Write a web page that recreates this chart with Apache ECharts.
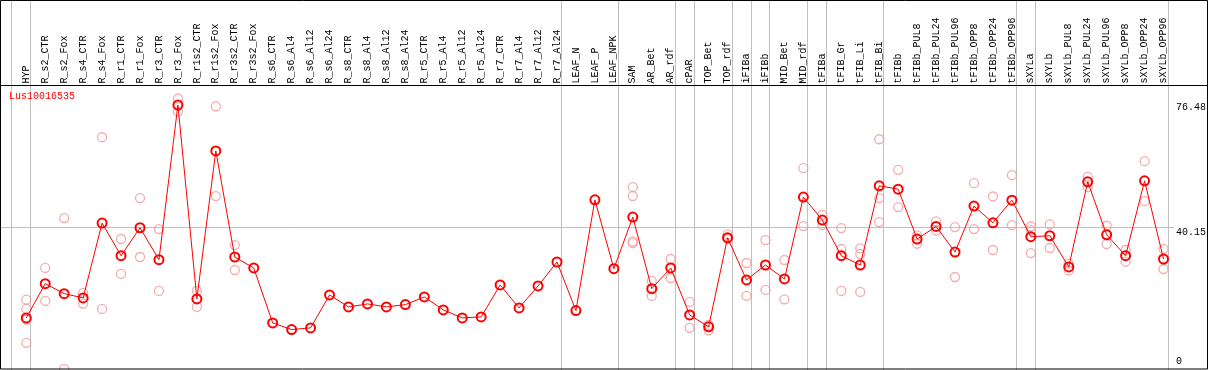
<!DOCTYPE html>
<html>
<head>
<meta charset="utf-8">
<script src="https://cdn.jsdelivr.net/npm/echarts@6/dist/echarts.min.js"></script>
<style>
html,body{margin:0;padding:0;background:#fff;}
#chart{width:1209px;height:370px;}
</style>
</head>
<body>
<div id="chart"></div>
<script>
// ---- data ----
var geneName = 'Lus10016535';
var categories = ['HYP','R_s2_CTR','R_s2_Fox','R_s4_CTR','R_s4_Fox','R_r1_CTR','R_r1_Fox','R_r3_CTR','R_r3_Fox','R_r1s2_CTR','R_r1s2_Fox','R_r3s2_CTR','R_r3s2_Fox','R_s6_CTR','R_s6_Al4','R_s6_Al12','R_s6_Al24','R_s8_CTR','R_s8_Al4','R_s8_Al12','R_s8_Al24','R_r5_CTR','R_r5_Al4','R_r5_Al12','R_r5_Al24','R_r7_CTR','R_r7_Al4','R_r7_Al12','R_r7_Al24','LEAF_N','LEAF_P','LEAF_NPK','SAM','AR_Bet','AR_rdf','cPAR','TOP_Bet','TOP_rdf','iFIBa','iFIBb','MID_Bet','MID_rdf','tFIBa','tFIB_Gr','tFIB_Li','tFIB_Bi','tFIBb','tFIBb_PUL8','tFIBb_PUL24','tFIBb_PUL96','tFIBb_OPP8','tFIBb_OPP24','tFIBb_OPP96','sXYLa','sXYLb','sXYLb_PUL8','sXYLb_PUL24','sXYLb_PUL96','sXYLb_OPP8','sXYLb_OPP24','sXYLb_OPP96'];
var means = [14.68,24.32,21.51,20.30,41.39,32.19,40.07,31.07,74.65,20.02,61.72,31.83,28.74,13.27,11.39,11.86,21.14,17.77,18.61,17.77,18.42,20.58,16.93,14.68,14.96,23.96,17.49,23.67,30.42,16.73,47.94,28.54,43.07,22.92,28.74,15.52,12.15,37.26,25.36,29.58,25.64,48.70,42.23,32.19,29.58,51.88,50.95,36.89,40.43,33.23,46.17,41.47,47.85,37.54,37.82,29.02,53.00,38.10,32.19,53.28,31.27];
var replicates = [
  [19.8,17.2,14.2,7.65],[28.74,19.46],[42.8,0.34],[21.7,18.7],[65.57,17.2],[36.9,27.05],[48.42,31.83],[39.7,22.27],[76.48,72.8],[22.27,17.77],[74.29,48.98],[35.2,28.17],
  [],[],[],[],[],[],[],[],[],[],[],[],[],[],[],[],[],[],[],[],
  [51.51,48.98,36.22,35.76],[25.08,20.86],[31.27,25.92],[19.18,11.87],[12.71,11.19],[38.18,36.89],[30.14,20.86],[36.61,22.55],[30.98,19.91],[56.85,40.54],[43.72,40.83],[39.98,34.08,22.27],[34.25,32.67,21.99],[65.0,48.42,41.67],[56.38,45.89],[37.9,35.57],[41.84,39.31],[40.26,26.2],[52.63,39.7],[48.88,33.8],[54.88,40.83],[40.43,39.42,32.95],[41.0,34.36],[29.95,28.06],[54.41,51.51],[40.63,35.48],[33.8,30.51],[58.82,47.57],[34.08,28.45]
];
var groupSeparators = [-1,0,28,31,34,35,37,38,39,41,42,45,52,53,60];
var yTicks = [0, 40.15, 76.48];
var refLineValue = 40.15;

// ---- build ----
var repPoints = [];
replicates.forEach(function(arr, i){ arr.forEach(function(v){ repPoints.push([i, v]); }); });

var mono = 'Liberation Mono';

var chart = echarts.init(document.getElementById('chart'), null, {renderer:'canvas'});
chart.setOption({
  animation:false,
  backgroundColor:'#fff',
  title:{text:geneName,left:9,top:91,padding:0,textStyle:{color:'#ff0000',fontSize:10,fontWeight:'normal',fontFamily:mono}},
  grid:{left:16.8,top:98.5,width:1159,height:272,containLabel:false},
  xAxis:{type:'category',data:categories,position:'top',boundaryGap:true,
    axisLine:{show:false},axisTick:{show:false},splitLine:{show:false},
    axisLabel:{interval:0,rotate:90,margin:15,fontFamily:mono,fontSize:10,color:'#000'}},
  yAxis:{type:'value',position:'right',min:0,max:76.48,
    axisLine:{show:false},axisTick:{show:false},splitLine:{show:false},
    axisLabel:{customValues:yTicks,margin:3,fontFamily:mono,fontSize:10,color:'#000',
      formatter:function(v){
        if (v === 0) return '{b|0}';
        if (v === yTicks[2]) return '{t|' + v + '}';
        return '{m|' + v + '}';
      },
      rich:{
        t:{padding:[17,0,0,0],fontFamily:mono,fontSize:10,color:'#000'},
        m:{padding:[9,0,0,0],fontFamily:mono,fontSize:10,color:'#000'},
        b:{padding:[0,0,17,0],fontFamily:mono,fontSize:10,color:'#000'}
      }}},
  graphic:[
    {type:'rect',shape:{x:0.5,y:0.5,width:1207,height:368.5},style:{fill:'none',stroke:'#000',lineWidth:1},z:100},
    {type:'line',shape:{x1:0,y1:85.5,x2:1208,y2:85.5},style:{stroke:'#000',lineWidth:1},z:100}
  ],
  series:[
    {type:'custom',silent:true,clip:false,z:1,data:groupSeparators.map(function(i){return [i,0];}),
      renderItem:function(params, api){
        var base = api.coord([0,0])[0];
        var band = api.size([1,0])[0];
        var x = Math.round(base + api.value(0)*band + 4) + 0.5;
        return {type:'line',shape:{x1:x,y1:0,x2:x,y2:370},style:{stroke:'#c0c0c0',lineWidth:1}};
      }},
    {type:'custom',silent:true,clip:false,z:1,data:[[0,refLineValue]],
      renderItem:function(params, api){
        var y = Math.round(api.coord([0,api.value(1)])[1]) + 0.5;
        var right = params.coordSys.x + params.coordSys.width;
        return {type:'line',shape:{x1:1,y1:y,x2:right+1,y2:y},style:{stroke:'#c0c0c0',lineWidth:1}};
      }},
    {type:'scatter',data:repPoints,symbol:'circle',symbolSize:9,z:2,
      itemStyle:{color:'rgba(0,0,0,0)',borderColor:'#f0979a',borderWidth:1.3}},
    {type:'line',data:means,symbol:'circle',symbolSize:9,showAllSymbol:true,z:3,
      lineStyle:{color:'#ff0000',width:1},
      itemStyle:{color:'rgba(0,0,0,0)',borderColor:'#ff0000',borderWidth:2}}
  ]
});
</script>
</body>
</html>
